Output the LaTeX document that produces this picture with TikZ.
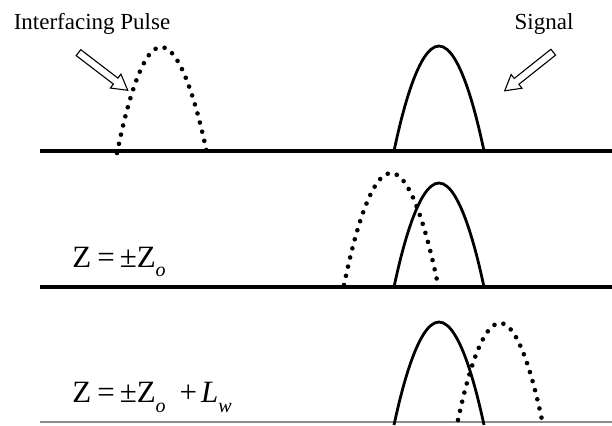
\documentclass[tikz,border=0pt]{standalone}
\usepackage{fontspec}
\setmainfont{Liberation Serif}
\usetikzlibrary{shapes.arrows,positioning,calc}
\tikzset{every picture/.style={line width=0.75pt}}
\newcommand{\lowsub}[1]{\raisebox{-9pt}{\fontsize{20}{22}\selectfont\textit{#1}}}
\tikzset{
    axisline/.style={line width=3.6pt},
    thinaxis/.style={line width=1.2pt, black!45},
    solidpulse/.style={line width=2.8pt},
    dotpulse/.style={line width=4.6pt, line cap=round, dash pattern=on 0pt off 9.4pt},
    blockarrow/.style={draw, line width=1.1pt, shape=single arrow, single arrow head extend=5pt,
        single arrow tip angle=60, inner sep=3.2pt, minimum height=62pt},
    caption/.style={font=\fontsize{23}{26}\selectfont, inner sep=0pt},
    formula/.style={font=\fontsize{31}{34}\selectfont, inner sep=0pt, anchor=base west},
}

\begin{document}
\begin{tikzpicture}[x=1pt, y=1pt]
    \useasboundingbox (0,0) rectangle (612,425);
    % base lines
    \coordinate (topL) at (40,274);
    \coordinate (topR) at (612,274);
    \coordinate (midL) at (40,138);
    \coordinate (midR) at (612,138);
    \coordinate (lowL) at (40,3);
    \coordinate (lowR) at (612,3);
    \draw[axisline] (topL) -- (topR);
    \draw[axisline] (midL) -- (midR);
    \draw[thinaxis] (lowL) -- (lowR);
    % labels
    \node[caption] (pulselabel) at (92,401) {Interfacing Pulse};
    \node[caption] (signallabel) at (544,401) {Signal};
    \node[blockarrow, rotate=-37.4] (pulsearrow) at (100.5,355.5) {};
    \node[blockarrow, rotate=-141.5] (signalarrow) at (531.5,355.5) {};
    \node[formula] (zmid) at (72,157) {Z\hspace{6pt}=\hspace{5pt}±Z\lowsub{o}};
    \node[formula] (zlow) at (72,22) {Z\hspace{6pt}=\hspace{5pt}±Z\lowsub{o}\hspace{14pt}+\hspace{4pt}\textit{L}\lowsub{w}};
    % top row
    \draw[dotpulse] (117,272) parabola bend (161,378) (207,272);
    \draw[solidpulse] (394,274) parabola bend (439,379) (484,274);
    % middle row
    \draw[dotpulse] (344,140) parabola bend (391,252) (438,140);
    \draw[solidpulse] (394,138) parabola bend (439,242) (484,138);
    % bottom row
    \draw[solidpulse] (394,0) parabola bend (439,103) (484,0);
    \draw[dotpulse] (458,5) parabola bend (500,102) (542,5);
\end{tikzpicture}
\end{document}
